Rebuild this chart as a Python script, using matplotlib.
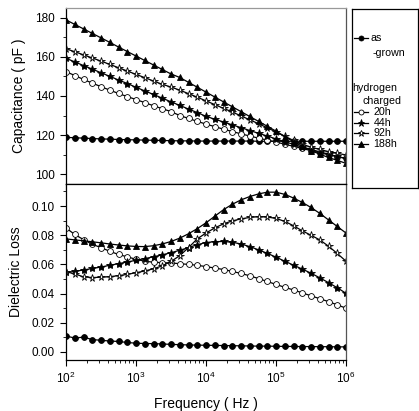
import numpy as np
import matplotlib
matplotlib.use("Agg")
import matplotlib.pyplot as plt
from matplotlib.ticker import LogLocator, MultipleLocator, NullFormatter, FormatStrFormatter
from matplotlib.lines import Line2D

plt.rcParams['font.family'] = ['Liberation Sans', 'DejaVu Sans']
plt.rcParams['mathtext.fontset'] = 'custom'
plt.rcParams['mathtext.rm'] = 'Liberation Sans'
plt.rcParams['mathtext.it'] = 'Liberation Sans'

# log10 of frequency (Hz), 8 points per decade
log_freq = [2.0, 2.125, 2.25, 2.375, 2.5, 2.625, 2.75, 2.875,
            3.0, 3.125, 3.25, 3.375, 3.5, 3.625, 3.75, 3.875,
            4.0, 4.125, 4.25, 4.375, 4.5, 4.625, 4.75, 4.875,
            5.0, 5.125, 5.25, 5.375, 5.5, 5.625, 5.75, 5.875, 6.0]

series_labels = ["as-grown", "20h", "44h", "92h", "188h"]

# Capacitance (pF)
cap_as_grown = [118.8, 118.6, 118.4, 118.2, 118.0, 117.9, 117.7, 117.6,
                117.5, 117.4, 117.3, 117.2, 117.1, 117.0, 117.0, 116.9,
                116.9, 116.9, 116.9, 116.9, 116.9, 116.9, 116.8, 116.8,
                116.8, 116.8, 116.8, 116.8, 116.8, 116.8, 116.8, 116.8, 116.8]
cap_20h = [152.5, 150.5, 148.5, 146.6, 144.8, 143.0, 141.3, 139.7,
           138.2, 136.6, 135.0, 133.5, 132.0, 130.0, 128.5, 127.0,
           125.6, 124.3, 123.0, 121.8, 120.6, 119.5, 118.4, 117.4,
           116.4, 115.3, 114.2, 113.1, 112.0, 110.9, 109.9, 108.9, 108.0]
cap_44h = [159.3, 157.5, 155.6, 153.8, 151.9, 150.1, 148.2, 146.4,
           144.5, 142.6, 140.8, 138.9, 137.0, 135.2, 133.3, 131.5,
           129.6, 128.1, 126.7, 125.2, 123.8, 122.3, 120.9, 119.5,
           118.0, 116.6, 115.2, 113.9, 112.6, 111.4, 110.2, 109.0, 108.0]
cap_92h = [164.2, 162.7, 161.1, 159.5, 157.9, 156.2, 154.5, 152.8,
           151.1, 149.4, 147.7, 146.0, 144.6, 143.0, 141.2, 139.4,
           137.5, 135.6, 133.7, 131.8, 129.8, 127.8, 125.8, 123.7,
           121.6, 119.4, 117.2, 115.3, 113.8, 112.6, 111.5, 110.6, 109.8]
cap_188h = [179.0, 176.7, 174.4, 172.1, 169.8, 167.5, 165.1, 162.8,
            160.5, 158.2, 155.9, 153.6, 151.3, 149.5, 147.0, 144.5,
            142.0, 139.5, 137.0, 134.5, 132.0, 129.5, 127.0, 124.5,
            122.0, 119.2, 116.6, 114.2, 112.0, 110.2, 108.5, 107.0, 105.5]

# Dielectric loss
loss_as_grown = [0.0110, 0.0095, 0.0102, 0.0085, 0.0080, 0.0075, 0.0072, 0.0065,
                 0.0060, 0.0058, 0.0057, 0.0055, 0.0052, 0.0050, 0.0048, 0.0047,
                 0.0046, 0.0045, 0.0044, 0.0043, 0.0042, 0.0041, 0.0040, 0.0040,
                 0.0039, 0.0038, 0.0038, 0.0037, 0.0037, 0.0036, 0.0036, 0.0035, 0.0035]
loss_20h = [0.0850, 0.0805, 0.0770, 0.0738, 0.0715, 0.0690, 0.0668, 0.0652,
            0.0635, 0.0622, 0.0615, 0.0612, 0.0610, 0.0605, 0.0600, 0.0594,
            0.0585, 0.0575, 0.0565, 0.0552, 0.0538, 0.0522, 0.0503, 0.0483,
            0.0463, 0.0443, 0.0425, 0.0405, 0.0385, 0.0365, 0.0345, 0.0323, 0.0300]
loss_44h = [0.0545, 0.0552, 0.0562, 0.0572, 0.0582, 0.0594, 0.0605, 0.0617,
            0.0628, 0.0640, 0.0652, 0.0666, 0.0680, 0.0697, 0.0715, 0.0735,
            0.0750, 0.0756, 0.0757, 0.0752, 0.0740, 0.0722, 0.0700, 0.0676,
            0.0650, 0.0622, 0.0595, 0.0568, 0.0540, 0.0508, 0.0475, 0.0440, 0.0402]
loss_92h = [0.0550, 0.0535, 0.0515, 0.0510, 0.0512, 0.0516, 0.0523, 0.0532,
            0.0543, 0.0555, 0.0570, 0.0590, 0.0620, 0.0660, 0.0715, 0.0775,
            0.0815, 0.0850, 0.0878, 0.0898, 0.0912, 0.0922, 0.0927, 0.0925,
            0.0915, 0.0895, 0.0865, 0.0830, 0.0800, 0.0768, 0.0725, 0.0675, 0.0622]
loss_188h = [0.0775, 0.0768, 0.0762, 0.0755, 0.0748, 0.0740, 0.0733, 0.0727,
             0.0723, 0.0722, 0.0728, 0.0740, 0.0757, 0.0780, 0.0810, 0.0845,
             0.0885, 0.0930, 0.0975, 0.1012, 0.1042, 0.1065, 0.1083, 0.1095,
             0.1095, 0.1080, 0.1055, 0.1025, 0.0990, 0.0950, 0.0905, 0.0860, 0.0815]

freq = 10.0 ** np.array(log_freq)

styles = {
    "as-grown": dict(marker='o', mfc='black', ms=4.2),
    "20h": dict(marker='o', mfc='white', ms=4.2),
    "44h": dict(marker='*', mfc='black', ms=6.0),
    "92h": dict(marker='*', mfc='white', ms=5.5),
    "188h": dict(marker='^', mfc='black', ms=4.5),
}

cap = [cap_as_grown, cap_20h, cap_44h, cap_92h, cap_188h]
loss = [loss_as_grown, loss_20h, loss_44h, loss_92h, loss_188h]

W, H = 419, 411
fig = plt.figure(figsize=(W / 100, H / 100), dpi=100)

L, R = 66, 346
ax1 = fig.add_axes([L / W, 1 - 184 / H, (R - L) / W, 176 / H])
ax2 = fig.add_axes([L / W, 1 - 360 / H, (R - L) / W, 176 / H])

for lab, c, l in zip(series_labels, cap, loss):
    st = styles[lab]
    for ax, y in ((ax1, c), (ax2, l)):
        ax.plot(freq, y, color='black', lw=0.9, marker=st['marker'],
                mfc=st['mfc'], mec='black', mew=0.6, ms=st['ms'])

for ax in (ax1, ax2):
    ax.set_xscale('log')
    ax.set_xlim(1e2, 1e6)
    ax.xaxis.set_major_locator(LogLocator(base=10, numticks=10))
    ax.xaxis.set_minor_locator(LogLocator(base=10, subs=np.arange(2, 10), numticks=20))
    ax.xaxis.set_minor_formatter(NullFormatter())
    ax.tick_params(which='major', direction='out', length=4.5, width=0.8,
                   labelsize=8.5, top=False, right=False)
    ax.tick_params(which='minor', direction='out', length=2.5, width=0.6,
                   top=False, right=False)
    for s in ax.spines.values():
        s.set_linewidth(0.9)

ax1.spines['top'].set_color('#999999')
ax1.spines['right'].set_color('#555555')
ax2.spines['right'].set_color('#555555')

ax1.set_ylim(94.9, 185.1)
ax1.yaxis.set_major_locator(MultipleLocator(20))
ax1.yaxis.set_minor_locator(MultipleLocator(10))
ax1.tick_params(axis='x', labelbottom=False)

ax2.set_ylim(-0.0055, 0.1151)
ax2.yaxis.set_major_locator(MultipleLocator(0.02))
ax2.yaxis.set_minor_locator(MultipleLocator(0.01))
ax2.yaxis.set_major_formatter(FormatStrFormatter('%.2f'))

ax1.set_ylabel("Capacitance ( pF )", fontsize=10)
ax2.set_ylabel("Dielectric Loss", fontsize=10)
ax1.yaxis.set_label_coords(-0.143, 0.5)
ax2.yaxis.set_label_coords(-0.152, 0.5)
ax2.set_xlabel("Frequency ( Hz )", fontsize=10, labelpad=8)

# Legend box
lg = fig.add_axes([352 / W, 1 - 188 / H, 66 / W, 179 / H])
lg.set_xlim(0, 66)
lg.set_ylim(179, 0)
lg.set_xticks([])
lg.set_yticks([])
for s in lg.spines.values():
    s.set_linewidth(0.9)
fs = 7.7
def handle(y, lab):
    st = styles[lab]
    lg.add_line(Line2D([2, 16], [y, y], color='black', lw=0.9))
    lg.add_line(Line2D([9], [y], color='black', marker=st['marker'],
                       mfc=st['mfc'], mec='black', mew=0.6, ms=st['ms'] * 0.85))

handle(29.3, "as-grown")
lg.text(18, 29.3, "as", fontsize=fs, va='center', ha='left')
lg.text(20.5, 44.3, "-grown", fontsize=fs, va='center', ha='left')
lg.text(0.5, 79.3, "hydrogen", fontsize=fs, va='center', ha='left')
lg.text(10.5, 91.7, "charged", fontsize=fs, va='center', ha='left')
for y, lab in zip([103.3, 113.7, 124.3, 135.0], ["20h", "44h", "92h", "188h"]):
    handle(y, lab)
    lg.text(21.5, y, lab, fontsize=fs, va='center', ha='left')

fig.savefig("out.png", dpi=100)
